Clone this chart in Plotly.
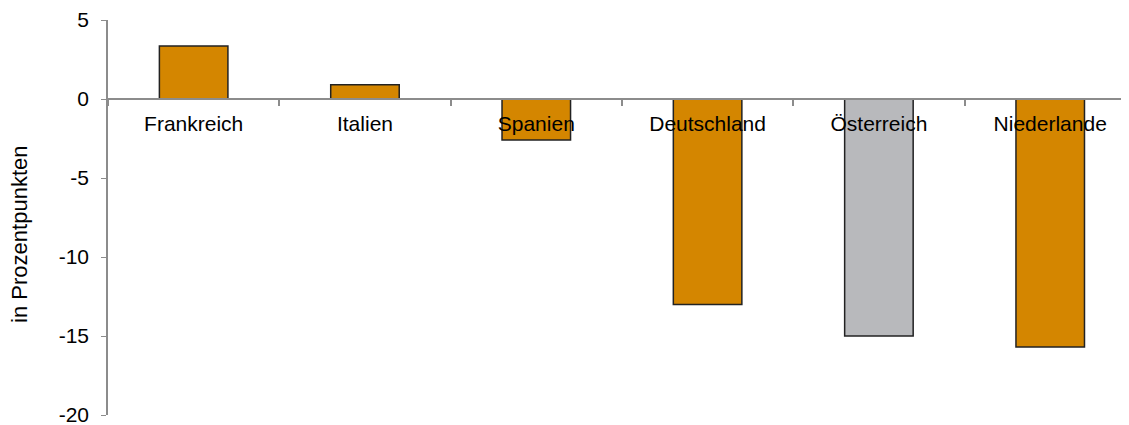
import plotly.graph_objects as go

categories = ["Frankreich", "Italien", "Spanien", "Deutschland", "Österreich", "Niederlande"]
values = [3.35, 0.9, -2.6, -13.0, -15.0, -15.7]
bar_colors = ["#D48600", "#D48600", "#D48600", "#D48600", "#B8B9BC", "#D48600"]
y_ticks = [5, 0, -5, -10, -15, -20]
y_tick_labels = ["5", "0", "-5", "-10", "-15", "-20"]
y_title = "in Prozentpunkten"

fig = go.Figure()
fig.add_trace(go.Bar(
    x=categories, y=values,
    marker=dict(color=bar_colors, line=dict(color="#222222", width=1.5)),
    width=0.4,
))

fig.add_annotation(
    text=y_title, textangle=-90,
    xref="paper", yref="paper", x=0, y=0.456,
    xanchor="center", yanchor="middle", xshift=-88,
    showarrow=False, font=dict(size=22, color="#000000"),
)

fig.update_layout(
    width=1121, height=417,
    margin=dict(l=100, r=1, t=12, b=10),
    paper_bgcolor="white", plot_bgcolor="white",
    showlegend=False,
    font=dict(family="Liberation Sans, Arial, sans-serif", size=21, color="#000000"),
    xaxis=dict(
        anchor="free", position=0.8, automargin=False,
        range=[-0.5, 5.454],
        showline=True, linecolor="#8C8C8C", linewidth=2,
        ticks="outside", tickson="boundaries", ticklen=6, tickcolor="#8C8C8C", tickwidth=1.5,
        ticklabelstandoff=6,
        showgrid=False, zeroline=False,
        tickfont=dict(size=21),
    ),
    yaxis=dict(
        range=[-20, 5], tickvals=y_ticks, ticktext=y_tick_labels, automargin=False,
        ticklabeloverflow="allow",
        showline=True, linecolor="#8C8C8C", linewidth=1.5,
        ticks="outside", ticklen=5, tickcolor="#8C8C8C",
        ticklabelstandoff=8,
        showgrid=False, zeroline=False,
        tickfont=dict(size=21),
    ),
)

fig.write_html("out.html")
